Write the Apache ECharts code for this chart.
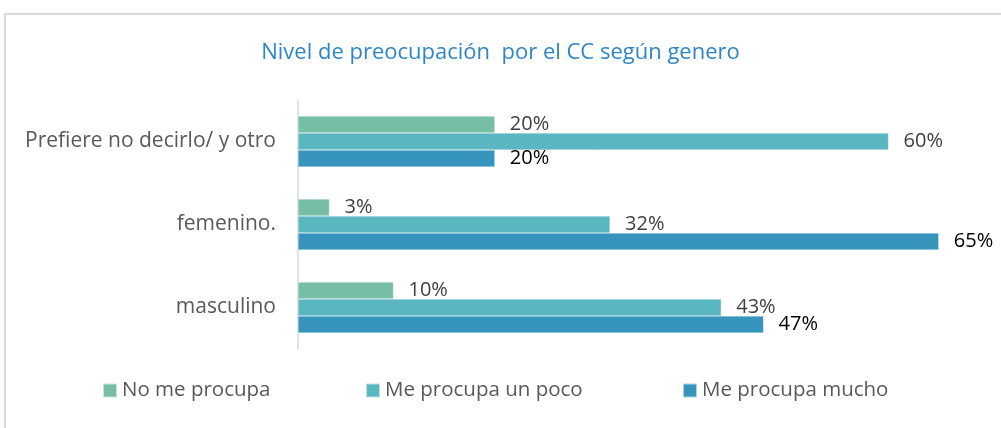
<!DOCTYPE html>
<html>
<head>
<meta charset="utf-8">
<script src="https://cdn.jsdelivr.net/npm/echarts@6/dist/echarts.min.js"></script>
<style>
  html, body { margin: 0; padding: 0; background: #fff; }
  #chart { width: 1001px; height: 428px; }
</style>
</head>
<body>
<div id="chart"></div>
<script>
// categorias (de arriba hacia abajo)
const categories = ["Prefiere no decirlo/ y otro", "femenino.", "masculino"];
// series
const seriesNames = ["No me procupa", "Me procupa un poco", "Me procupa mucho"];
const noMeProcupa = [20, 3.2, 9.7];
const meProcupaPoco = [60, 31.7, 43];
const meProcupaMucho = [20, 65.1, 47.3];

const colors = ["#76BFA5", "#5AB6C0", "#3794BC"];
const labelColors = ["#404040", "#404040", "#000000"];
const FONT = "Open Sans";

const chart = echarts.init(document.getElementById("chart"));

function makeSeries(i, data) {
  return {
    name: seriesNames[i],
    type: "bar",
    data: data,
    barWidth: 17,
    barGap: "0%",
    itemStyle: { color: colors[i], borderColor: "rgba(255,255,255,0.6)", borderWidth: 0.5 },
    label: {
      show: true,
      position: "right",
      distance: 15,
      fontFamily: FONT,
      fontSize: 20,
      color: labelColors[i],
      formatter: (p) => Math.round(p.value) + "%",
    },
    silent: true,
    animation: false,
  };
}

// una leyenda por serie para ubicarlas como en la imagen
const legendLefts = [102, 365, 682];
const legends = seriesNames.map((name, i) => ({
  data: [name],
  left: legendLefts[i],
  top: 380,
  padding: 0,
  itemWidth: 14,
  itemHeight: 14,
  itemGap: 0,
  icon: "rect",
  textStyle: { fontFamily: FONT, fontSize: 20.5, color: "#595959" },
  selectedMode: false,
}));

const option = {
  backgroundColor: "#fff",
  color: colors,
  title: {
    text: "Nivel de preocupación  por el CC según genero",
    left: "center",
    top: 37,
    textStyle: { fontFamily: FONT, fontSize: 22, fontWeight: "normal", color: "#2E86C8" },
  },
  legend: legends,
  graphic: [
    {
      type: "rect",
      shape: { x: 5, y: 14, width: 1010, height: 430 },
      style: { fill: "none", stroke: "#D9D9D9", lineWidth: 2 },
      silent: true,
      z: -10,
    },
  ],
  grid: { left: 298, top: 100, width: 689, height: 249, containLabel: false },
  xAxis: {
    type: "value",
    min: 0,
    max: 70,
    show: false,
    splitLine: { show: false },
  },
  yAxis: {
    type: "category",
    data: categories,
    inverse: true,
    axisLine: { show: true, lineStyle: { color: "#D9D9D9", width: 1.5 } },
    axisTick: { show: false },
    axisLabel: { fontFamily: FONT, fontSize: 21, color: "#595959", margin: 22 },
  },
  series: [
    makeSeries(0, noMeProcupa),
    makeSeries(1, meProcupaPoco),
    makeSeries(2, meProcupaMucho),
  ],
};

chart.setOption(option);
</script>
</body>
</html>
